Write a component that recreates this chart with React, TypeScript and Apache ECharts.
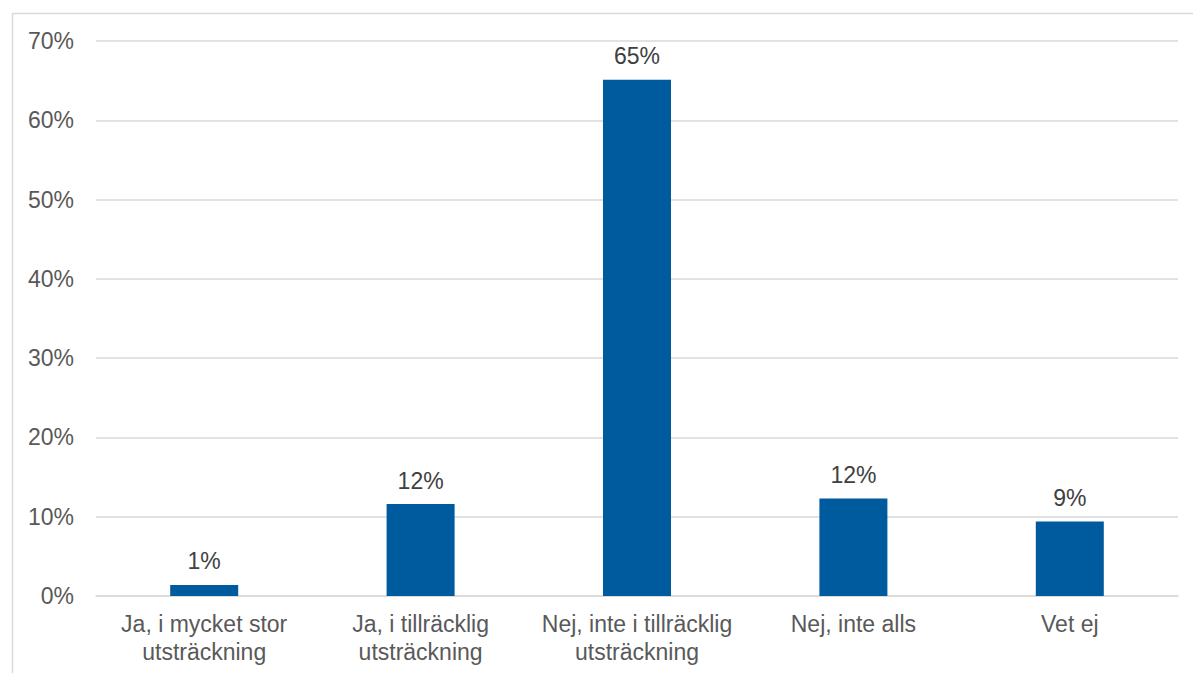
import React, { useEffect, useRef } from "react";
import * as echarts from "echarts";

const categories = [
  "Ja, i mycket stor\nutsträckning",
  "Ja, i tillräcklig\nutsträckning",
  "Nej, inte i tillräcklig\nutsträckning",
  "Nej, inte alls",
  "Vet ej",
];
const values = [1.4, 11.6, 65.1, 12.3, 9.4];
const yTicks = [0, 10, 20, 30, 40, 50, 60, 70];

export default function App() {
  const ref = useRef<HTMLDivElement>(null);
  useEffect(() => {
    if (!ref.current) return;
    const chart = echarts.init(ref.current, null, { renderer: "svg" });
    const font = "Liberation Sans, Arial, sans-serif";
    chart.setOption({
      animation: false,
      backgroundColor: "#ffffff",
      textStyle: { fontFamily: font },
      graphic: [
        {
          type: "rect",
          left: 10,
          top: 11,
          shape: { x: 0, y: 0, width: 1400, height: 900 },
          style: { fill: "none", stroke: "#d9d9d9", lineWidth: 1.5 },
          silent: true,
        },
      ],
      grid: { left: 96, right: 15, top: 41, bottom: 77, containLabel: false },
      xAxis: {
        type: "category",
        data: categories,
        axisLine: { show: true, lineStyle: { color: "#d9d9d9", width: 1.5 } },
        axisTick: { show: false },
        axisLabel: {
          color: "#595959",
          fontSize: 23,
          fontFamily: font,
          margin: 14,
          lineHeight: 28,
          interval: 0,
        },
      },
      yAxis: {
        type: "value",
        min: yTicks[0],
        max: yTicks[yTicks.length - 1],
        interval: 10,
        axisLine: { show: false },
        axisTick: { show: false },
        splitLine: { lineStyle: { color: "#d9d9d9", width: 1.5 } },
        axisLabel: {
          color: "#595959",
          fontSize: 23,
          fontFamily: font,
          margin: 22,
          formatter: (v: number) => `${v}%`,
        },
      },
      series: [
        {
          type: "bar",
          data: values,
          barWidth: 68,
          itemStyle: { color: "#005a9e" },
          label: {
            show: true,
            position: "top",
            distance: 12,
            color: "#404040",
            fontSize: 23,
            fontFamily: font,
            formatter: (p: any) => `${Math.round(p.value)}%`,
          },
        },
      ],
    });
    return () => chart.dispose();
  }, []);
  return (
    <div
      ref={ref}
      style={{ position: "fixed", left: 0, top: 0, width: 1193, height: 673 }}
    />
  );
}
